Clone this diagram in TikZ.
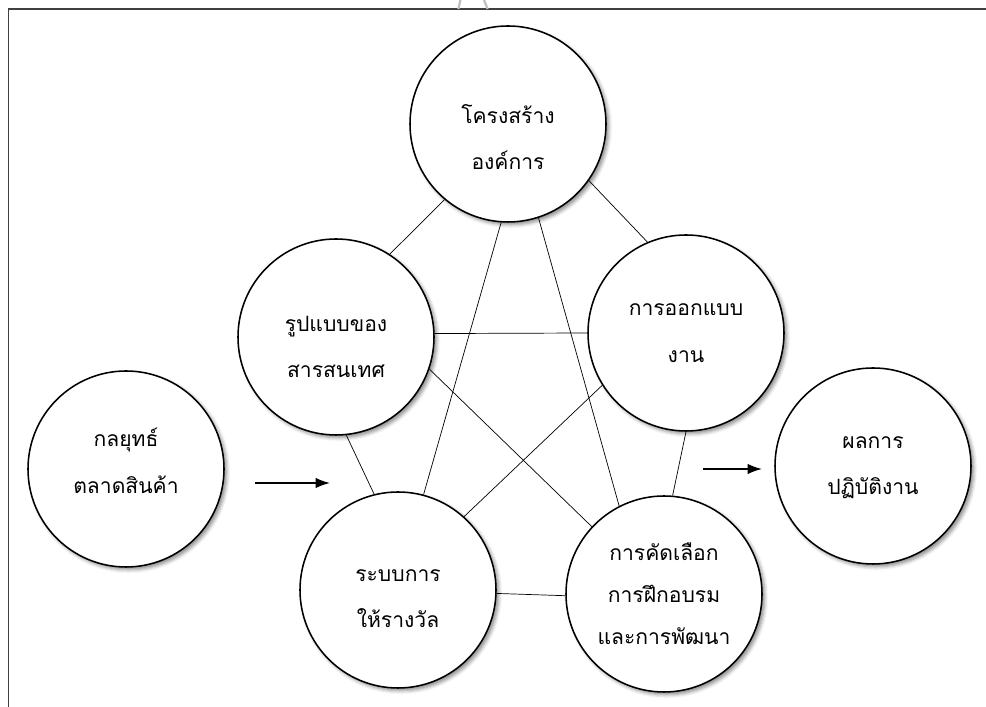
\documentclass[tikz,border=0pt]{standalone}
\usepackage{fontspec}
\newfontfamily\thaifont[Script=Thai]{Loma}
\usetikzlibrary{arrows.meta,shadows.blur}

\tikzset{
    bubble/.style={circle, draw, line width=1.1pt, fill=white, minimum size=4.9cm,
        blur shadow={shadow xshift=2pt, shadow yshift=-2pt, shadow blur radius=2.5pt, shadow opacity=45}},
    words/.style={align=center, font=\thaifont\fontsize{15}{33}\selectfont},
    link/.style={line width=0.5pt},
    flow/.style={line width=1pt, -{Latex[length=3.6mm, width=2.6mm]}}
}

\begin{document}
\begin{tikzpicture}
                        \useasboundingbox (0, 0) rectangle (24.65, 17.675);
                        % frame and the faint mark above it
                        \draw [line width=0.8pt, black!75] (0.21, 0) -- (0.21, 17.45) -- (24.65, 17.45);
                        \draw [line width=1.6pt, black!25] (11.51, 17.675) -- (11.46, 17.45);
                        \draw [line width=1.6pt, black!25] (12.10, 17.675) -- (12.19, 17.45);

                        \node [bubble] at (12.70, 14.575) (Str) {};
                        \node [bubble] at (8.40, 9.25) (Inf) {};
                        \node [bubble] at (17.15, 9.35) (Job) {};
                        \node [bubble] at (9.95, 2.925) (Rew) {};
                        \node [bubble] at (16.60, 2.825) (Trn) {};
                        \node [bubble] at (3.15, 5.95) (Mkt) {};
                        \node [bubble] at (21.825, 6.025) (Perf) {};

                        % texts sit a little off the centres
                        \node [words] at ([yshift=-0.33cm] Str) (StrT) {โครงสร้าง\\องค์การ};
                        \node [words] at ([yshift=-0.25cm] Inf) (InfT) {รูปแบบของ\\สารสนเทศ};
                        \node [words] at (Job) (JobT) {การออกแบบ\\งาน};
                        \node [words] at ([yshift=-0.22cm] Rew) (RewT) {ระบบการ\\ให้รางวัล};
                        \node [words] at (Trn) (TrnT) {การคัดเลือก\\[-3pt]การฝึกอบรม\\[-3pt]และการพัฒนา};
                        \node [words] at ([yshift=0.2cm] Mkt) (MktT) {กลยุทธ์\\ตลาดสินค้า};
                        \node [words] at ([yshift=-0.05cm] Perf) (PerfT) {ผลการ\\ปฏิบัติงาน};

                        \coordinate (in1) at (6.375, 5.6);
                        \coordinate (in2) at (8.25, 5.6);
                        \coordinate (out1) at (17.575, 5.95);
                        \coordinate (out2) at (19.05, 5.95);

                        \path [link]
                            (Str.230) edge (Inf.57)
                            (Str.325) edge (Job.113)
                            (Str.266) edge (Rew.75)
                            (Str.288) edge (Trn.117)
                            (Inf.2) edge (Job.180)
                            (Inf.341) edge (Trn.137)
                            (Inf.276) edge (Rew.104)
                            (Job.212) edge (Rew.48)
                            (Job.270) edge (Trn.85)
                            (Rew.358) edge (Trn.181);

                        \path [flow]
                            (in1) edge (in2)
                            (out1) edge (out2);
\end{tikzpicture}
\end{document}
